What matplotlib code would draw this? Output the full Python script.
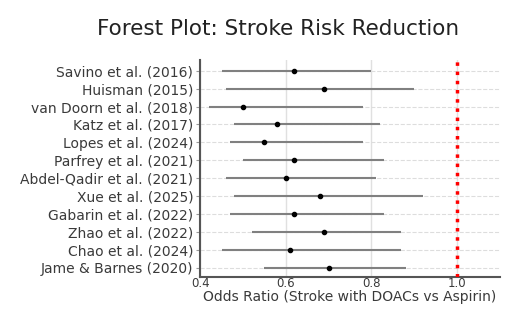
import numpy as np
import matplotlib.pyplot as plt

# Study data
studies = ['Savino et al. (2016)', 'Huisman (2015)', 'van Doorn et al. (2018)',
           'Katz et al. (2017)', 'Lopes et al. (2024)', 'Parfrey et al. (2021)',
           'Abdel-Qadir et al. (2021)', 'Xue et al. (2025)', 'Gabarin et al. (2022)',
           'Zhao et al. (2022)', 'Chao et al. (2024)', 'Jame & Barnes (2020)']
odds_ratio = [0.62, 0.69, 0.50, 0.58, 0.55, 0.62, 0.60, 0.68, 0.62, 0.69, 0.61, 0.70]
ci_low = [0.45, 0.46, 0.42, 0.48, 0.47, 0.50, 0.46, 0.48, 0.47, 0.52, 0.45, 0.55]
ci_high = [0.80, 0.90, 0.78, 0.82, 0.78, 0.83, 0.81, 0.92, 0.83, 0.87, 0.87, 0.88]
xticks = [0.4, 0.6, 0.8, 1.0]

fig = plt.figure(figsize=(5.28, 3.09), dpi=100)
ax = fig.add_axes([0.379, 0.104, 0.568, 0.702])

y = np.arange(len(studies))

# Confidence intervals and point estimates
ax.hlines(y, ci_low, ci_high, color='#808080', linewidth=1.5, zorder=2)
ax.plot(odds_ratio, y, 'o', color='black', markersize=3, zorder=3)

# Line of no effect
ax.axvline(1.0, color='red', linestyle=':', linewidth=2.5, zorder=4)

# Grid
for yy in y:
    ax.axhline(yy, color='#dddddd', linestyle='--', linewidth=0.8, zorder=1)
ax.set_xticks(xticks)
ax.xaxis.grid(True, color='#e0e0e0', linewidth=1.0, zorder=0)
ax.set_axisbelow(True)

ax.set_xlim(0.4, 1.1)
ax.set_ylim(len(studies) - 0.5, -0.6)
ax.set_yticks(y)
ax.set_yticklabels(studies, fontsize=10, color='#3a3a3a')
ax.tick_params(axis='y', length=3, color='#999999', pad=2)
ax.tick_params(axis='x', length=0, labelsize=8.5, pad=0, labelcolor='#3a3a3a')
ax.set_xlabel('Odds Ratio (Stroke with DOACs vs Aspirin)', fontsize=10,
              color='#3a3a3a', labelpad=0)

for side in ['top', 'right']:
    ax.spines[side].set_visible(False)
for side in ['left', 'bottom']:
    ax.spines[side].set_color('#555555')
    ax.spines[side].set_linewidth(1.5)

fig.text(0.527, 0.905, 'Forest Plot: Stroke Risk Reduction', fontsize=15.5,
         ha='center', va='center', color='#222222')

fig.savefig('out.png', dpi=100)
